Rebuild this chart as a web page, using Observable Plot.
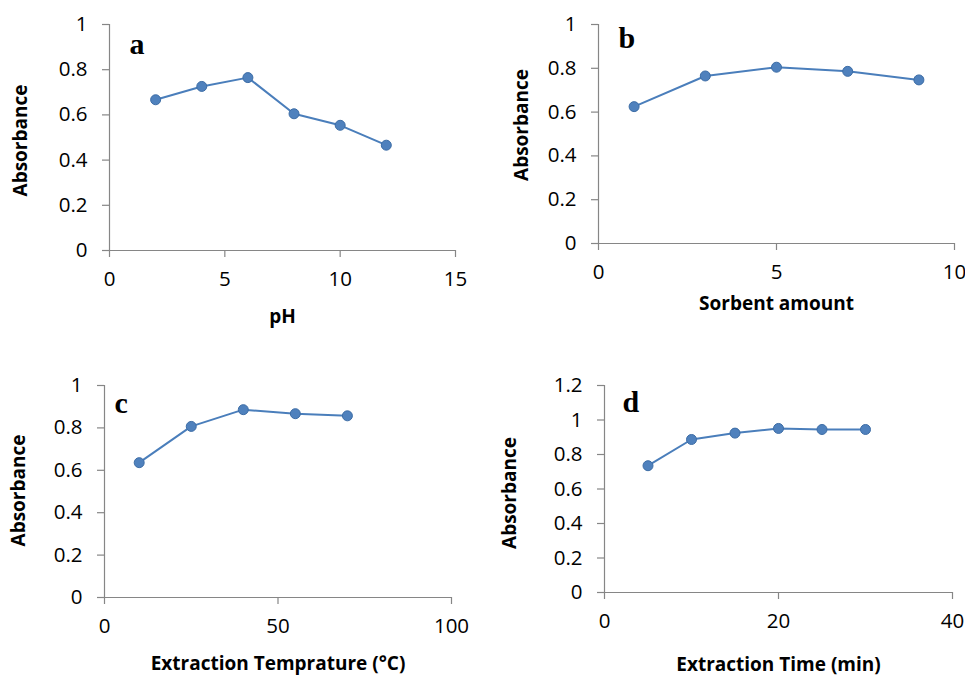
<!DOCTYPE html>
<html><head><meta charset="utf-8">
<script src="https://cdn.jsdelivr.net/npm/d3@7"></script>
<script src="https://cdn.jsdelivr.net/npm/@observablehq/plot@0.6"></script>
<style>
body{margin:0;background:#fff;}
#wrap{position:relative;width:965px;height:678px;overflow:hidden;background:#fff;}
.panel{position:absolute;}
.panel svg{overflow:visible;max-width:none;}
.panel svg [aria-label$="tick label"], .panel svg [aria-label$="tick label"] text{font-size:20.5px !important;font-family:'Open Sans',sans-serif !important;}
</style></head><body><div id="wrap"></div>
<script>
// Panel a: pH
const pH = [2, 4, 6, 8, 10, 12];
const absA = [0.667, 0.726, 0.765, 0.605, 0.554, 0.466];
// Panel b: sorbent amount
const sorbent = [1, 3, 5, 7, 9];
const absB = [0.625, 0.765, 0.805, 0.786, 0.747];
// Panel c: extraction temperature
const temp = [10, 25, 40, 55, 70];
const absC = [0.636, 0.807, 0.886, 0.867, 0.857];
// Panel d: extraction time
const time = [5, 10, 15, 20, 25, 30];
const absD = [0.735, 0.887, 0.924, 0.951, 0.945, 0.945];
// Tick labels
const xTicksA = [0, 5, 10, 15];
const xTicksB = [0, 5, 10];
const xTicksC = [0, 50, 100];
const xTicksD = [0, 20, 40];
const yTicks1 = [0, 0.2, 0.4, 0.6, 0.8, 1];
const yTicksD = [0, 0.2, 0.4, 0.6, 0.8, 1, 1.2];
const letters = ["a", "b", "c", "d"];
const xTitles = ["pH", "Sorbent amount", "Extraction Temprature (°C)", "Extraction Time (min)"];
const yTitle = "Absorbance";

const AXIS = "#868686", LINE = "#4a7ebb", DOT = "#4f81bd", DOTSTROKE = "#3d6da6";
const fmt = d3.format("~g");
const FONT = "'Open Sans', sans-serif";

function panel(o) {
  const data = o.xs.map((x, i) => ({x, y: o.ys[i]}));
  const svg = Plot.plot({
    width: o.width, height: o.height,
    marginLeft: o.m[0], marginRight: o.m[1], marginTop: o.m[2], marginBottom: o.m[3],
    style: {fontFamily: FONT, fontSize: "20px", color: "#000", background: "transparent"},
    x: {domain: o.xDomain},
    y: {domain: o.yDomain},
    marks: [
      Plot.ruleX([o.xDomain[0]], {stroke: AXIS, strokeWidth: 1.2}),
      Plot.ruleY([o.yDomain[0]], {stroke: AXIS, strokeWidth: 1.2}),
      Plot.axisX({ticks: o.xTicks, tickSize: 7, tickPadding: 14, tickFormat: fmt, stroke: AXIS, strokeWidth: 1.2,
        fill: "#000", label: null}),
      Plot.axisY({ticks: o.yTicks, tickSize: 7, tickPadding: 15, tickFormat: fmt, stroke: AXIS, strokeWidth: 1.2,
        fill: "#000", label: null}),
      Plot.line(data, {x: "x", y: "y", stroke: LINE, strokeWidth: 2}),
      Plot.dot(data, {x: "x", y: "y", r: 5, fill: DOT, stroke: DOTSTROKE, strokeWidth: 1}),
      Plot.text([o.letter], {text: d => d, frameAnchor: "top-left", dx: o.ldx, dy: o.ldy, textAnchor: "start", lineAnchor: "bottom",
        fontFamily: "'Liberation Serif', 'Times New Roman', serif", fontWeight: "bold", fontSize: 30, fill: "#000"}),
      Plot.text([o.xTitle], {text: d => d, frameAnchor: "bottom", dy: o.xdy, textAnchor: "middle", lineAnchor: "middle",
        fontFamily: FONT, fontWeight: "bold", fontSize: 19, fill: "#000"}),
      Plot.text([yTitle], {text: d => d, frameAnchor: "left", dx: o.ydx, dy: o.ydy, rotate: -90, textAnchor: "middle", lineAnchor: "middle",
        fontFamily: FONT, fontWeight: "bold", fontSize: 19, fill: "#000"})
    ]
  });
  const div = document.createElement("div");
  div.className = "panel";
  div.style.left = o.left + "px";
  div.style.top = o.top + "px";
  div.style.width = o.width + "px";
  div.style.height = o.height + "px";
  div.appendChild(svg);
  document.getElementById("wrap").appendChild(div);
}

panel({xs: pH, ys: absA, xDomain: [0, 15], yDomain: [0, 1], xTicks: xTicksA, yTicks: yTicks1,
  letter: letters[0], xTitle: xTitles[0], left: 0, top: 0, width: 480, height: 340, m: [109, 25, 24, 90],
  ldx: 20, ldy: 29, xdy: 66, ydx: -89, ydy: 3});
panel({xs: sorbent, ys: absB, xDomain: [0, 10], yDomain: [0, 1], xTicks: xTicksB, yTicks: yTicks1,
  letter: letters[1], xTitle: xTitles[1], left: 480, top: 0, width: 485, height: 340, m: [118, 11, 24, 97],
  ldx: 20, ldy: 23, xdy: 60, ydx: -77, ydy: -9});
panel({xs: temp, ys: absC, xDomain: [0, 100], yDomain: [0, 1], xTicks: xTicksC, yTicks: yTicks1,
  letter: letters[2], xTitle: xTitles[2], left: 0, top: 340, width: 480, height: 338, m: [104, 29, 45, 81],
  ldx: 10, ldy: 27, xdy: 66, ydx: -86, ydy: -1});
panel({xs: time, ys: absD, xDomain: [0, 40], yDomain: [0, 1.2], xTicks: xTicksD, yTicks: yTicksD,
  letter: letters[3], xTitle: xTitles[3], left: 480, top: 340, width: 485, height: 338, m: [124, 13, 45, 86],
  ldx: 18, ldy: 26, xdy: 72, ydx: -95, ydy: 4});
</script>
</body></html>
